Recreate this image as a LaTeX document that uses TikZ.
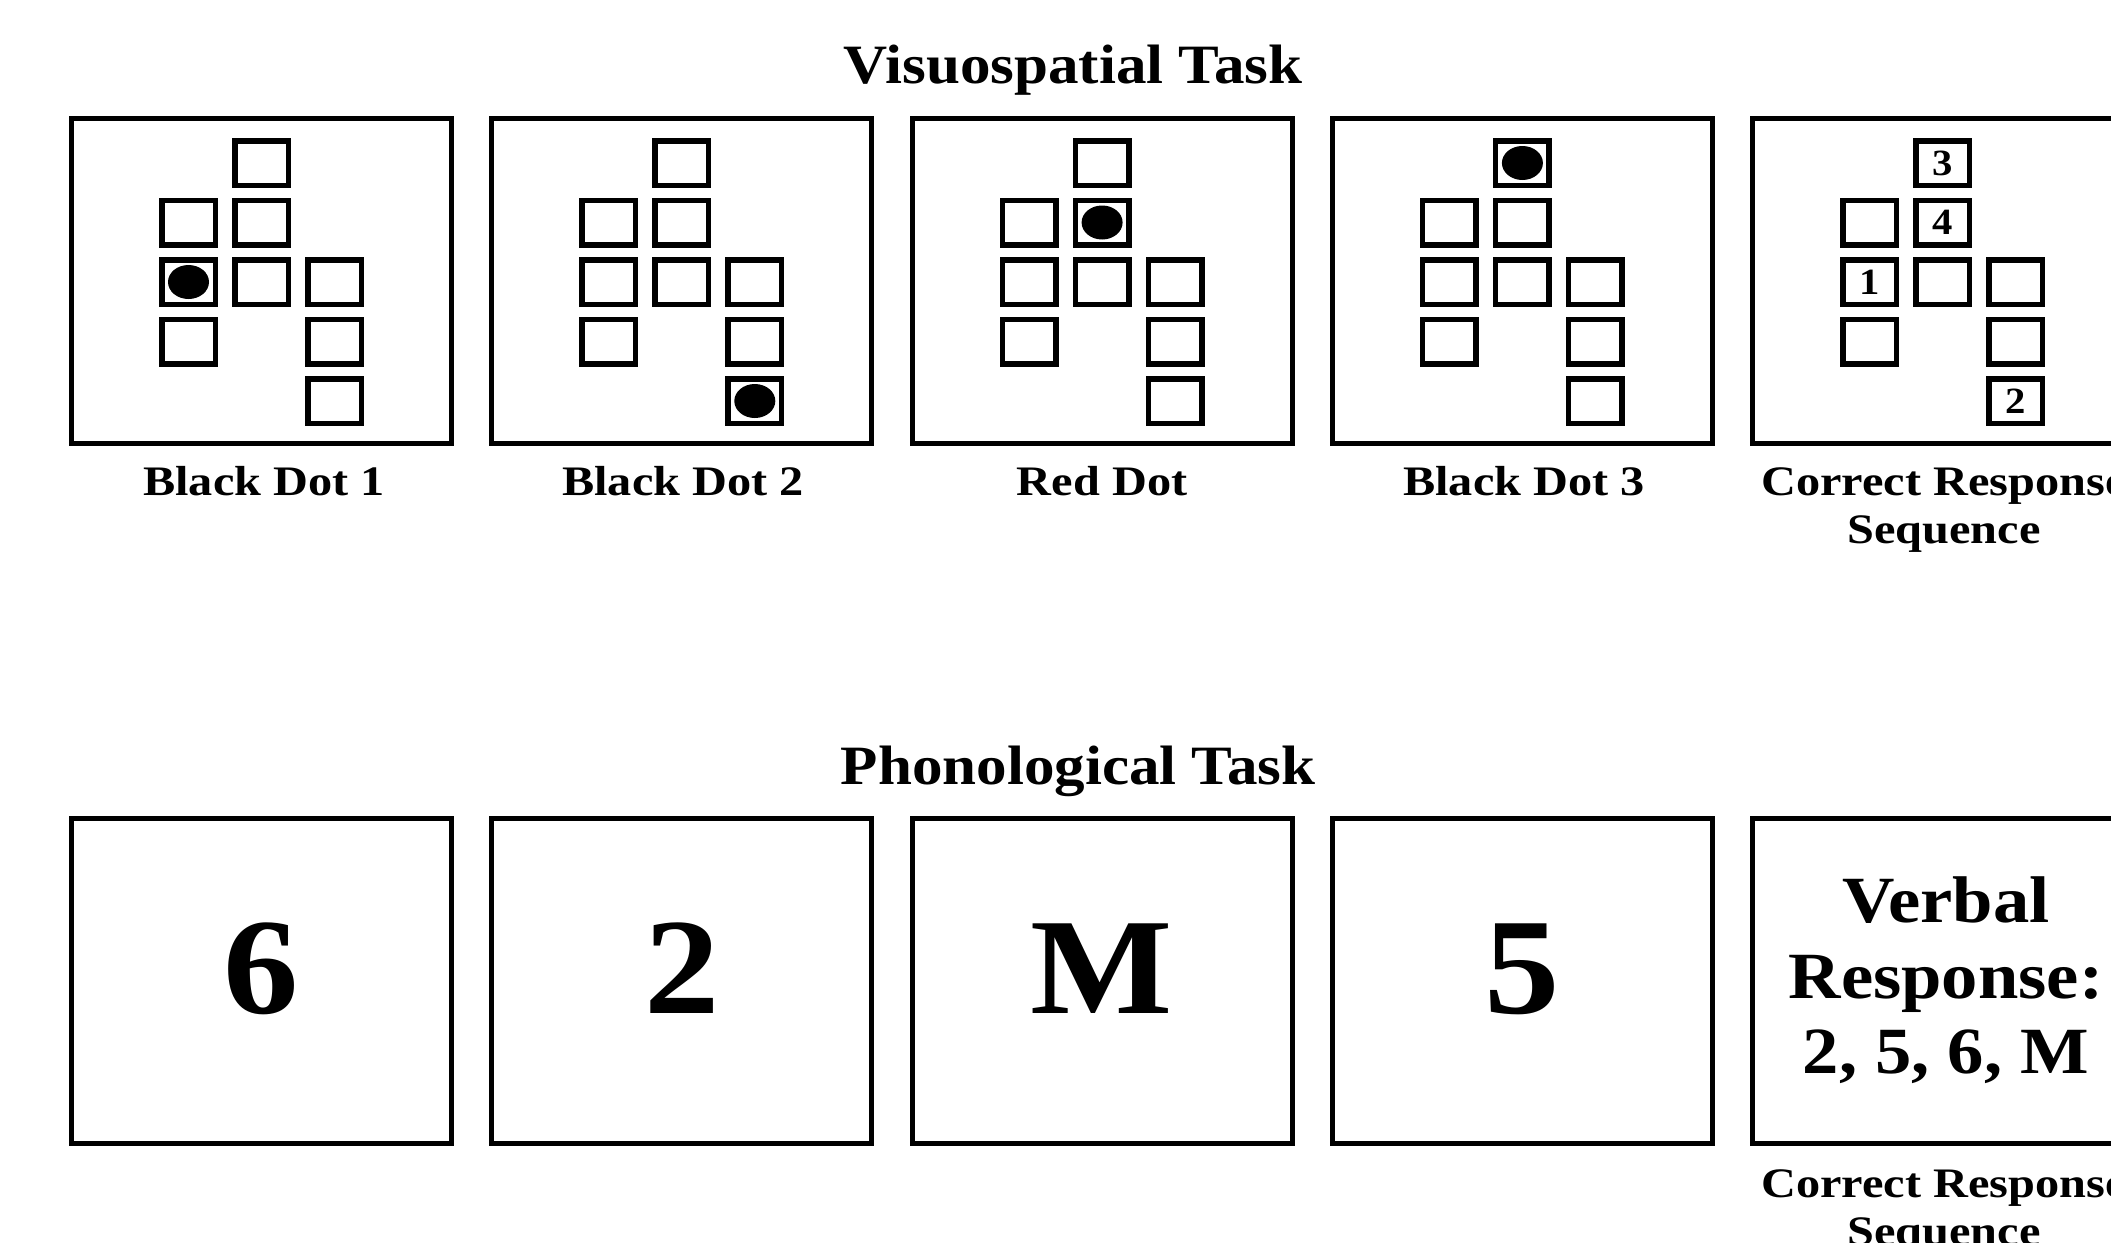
\documentclass[tikz,border=0pt]{standalone}
\usepackage{fontspec}
\setmainfont{Liberation Serif}[FakeStretch=1.1]
\newfontfamily\lblfont{Liberation Serif}[FakeStretch=1.15]
\usetikzlibrary{shapes.geometric}
\begin{document}
\begin{tikzpicture}[x=1pt,y=-1pt,
  panel/.style={draw, line width=5pt, minimum width=380pt, minimum height=325pt, inner sep=0pt},
  cell/.style={draw, line width=5.5pt, minimum width=53.5pt, minimum height=44.5pt, inner sep=0pt},
  dot/.style={fill, ellipse, minimum width=41pt, minimum height=34pt, inner sep=0pt},
  title/.style={font=\bfseries\fontsize{55.5}{62}\selectfont, anchor=base, inner sep=0pt},
  lbl/.style={font=\lblfont\bfseries\fontsize{42}{48}\selectfont, anchor=base, inner sep=0pt},
  big/.style={font=\bfseries\fontsize{137}{150}\selectfont, anchor=base, inner sep=0pt},
  verbal/.style={font=\bfseries\fontsize{66}{76}\selectfont, anchor=base, inner sep=0pt},
  num/.style={font=\bfseries\fontsize{37}{40}\selectfont, inner sep=0pt}]
\useasboundingbox (0,0) rectangle (2111,1242);
\fill[white] (0,0) rectangle (2111,1242);
\clip (0,0) rectangle (2111,1242);

% titles
\node[title] (t1) at (1073,83) {Visuospatial Task};
\node[title] (t2) at (1078,784) {Phonological Task};

% panels
\foreach \i/\cx in {1/261.5,2/681.8,3/1102.1,4/1522.4,5/1942.7}{
  \node[panel] (p\i) at (\cx,281) {};
  \node[panel] (q\i) at (\cx,981) {};
  \foreach \col/\row/\dx in {b/1/0,b/2/0,b/3/0,a/2/-73,a/3/-73,a/4/-73,c/3/73,c/4/73,c/5/73}{
    \node[cell] (c\i\col\row) at ({\cx+\dx},{282+(\row-3)*59.5}) {};
  }
}

% dots
\node[dot] (d1) at (c1a3) {};
\node[dot] (d2) at (c2c5) {};
\node[dot] (d3) at (c3b2) {};
\node[dot] (d4) at (c4b1) {};

% response numbers
\node[num] (n1) at (c5a3) {1};
\node[num] (n2) at (c5c5) {2};
\node[num] (n3) at (c5b1) {3};
\node[num] (n4) at (c5b2) {4};

% labels
\node[lbl] (l1) at (264,495) {Black Dot 1};
\node[lbl] (l2) at (683,495) {Black Dot 2};
\node[lbl] (l3) at (1102.1,495) {Red Dot};
\node[lbl] (l4) at (1524,495) {Black Dot 3};
\node[lbl] (l5a) at (1944,495) {Correct Response};
\node[lbl] (l5b) at (1944,543) {Sequence};

% phonological stimuli
\node[big] (b1) at (261.5,1013) {6};
\node[big] (b2) at (681.8,1013) {2};
\node[big] (b3) at (1102.1,1013) {M};
\node[big] (b4) at (1522.4,1013) {5};

\node[verbal] (v1) at (1946,922) {Verbal};
\node[verbal] (v2) at (1946,998) {Response:};
\node[verbal] (v3) at (1946,1073) {2, 5, 6, M};

\node[lbl] (m5a) at (1944,1197) {Correct Response};
\node[lbl] (m5b) at (1944,1245) {Sequence};
\end{tikzpicture}
\end{document}
